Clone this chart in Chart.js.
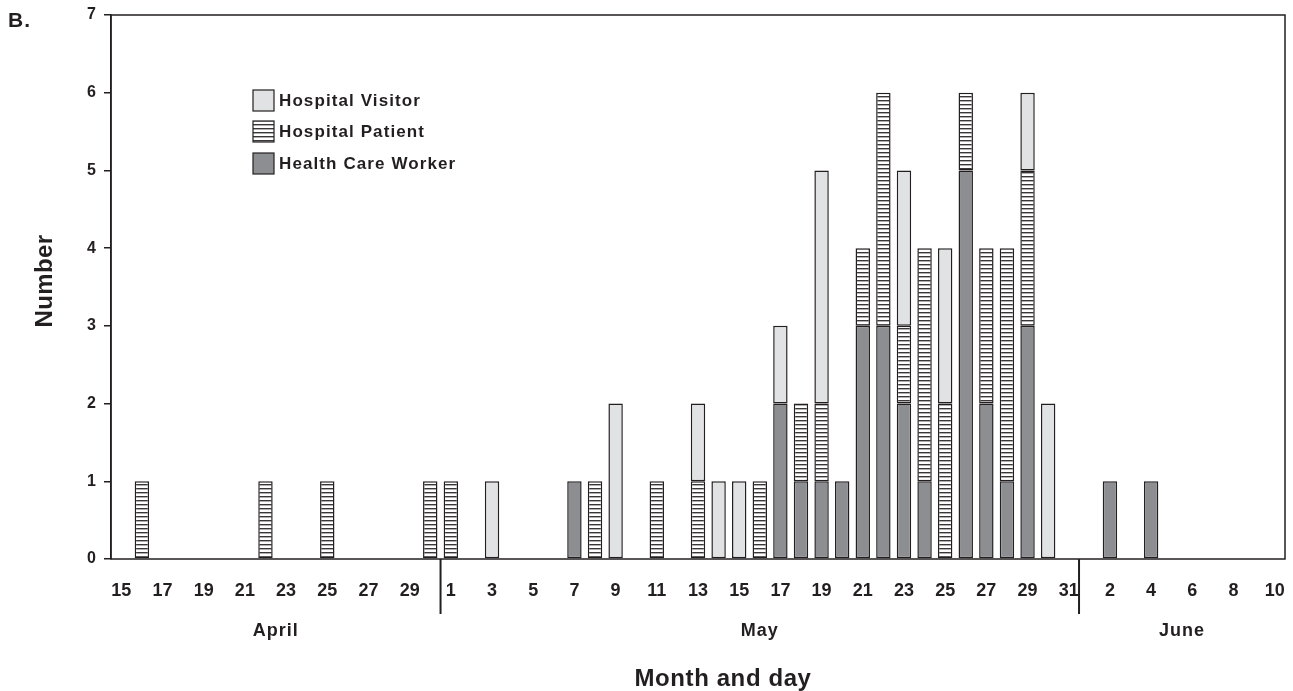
<!DOCTYPE html>
<html>
<head>
<meta charset="utf-8">
<script src="https://cdn.jsdelivr.net/npm/chart.js@4.4.1/dist/chart.umd.min.js"></script>
<style>
    html, body { margin: 0; padding: 0; background: #fff; }
    #wrap { width: 1293px; height: 691px; }
</style>
</head>
<body>
<div id="wrap"><canvas id="epiChart" width="1293" height="691"></canvas></div>
<script>
// day labels: April 15-30, May 1-31, June 1-10
const dayLabels = [
    '15', '16', '17', '18', '19', '20', '21', '22', '23', '24', '25', '26', '27', '28', '29', '30',
    '1', '2', '3', '4', '5', '6', '7', '8', '9', '10', '11', '12', '13', '14', '15', '16',
    '17', '18', '19', '20', '21', '22', '23', '24', '25', '26', '27', '28', '29', '30', '31',
    '1', '2', '3', '4', '5', '6', '7', '8', '9', '10'
];

const months = ['April', 'May', 'June'];
const monthStart = [0, 16, 47];   // first index of each month in dayLabels
const monthEnd = [15, 46, 56];

// cases per day (same order as dayLabels)
const healthCareWorker = [
    0, 0, 0, 0, 0, 0, 0, 0, 0, 0, 0, 0, 0, 0, 0, 0,
    0, 0, 0, 0, 0, 0, 1, 0, 0, 0, 0, 0, 0, 0, 0, 0,
    2, 1, 1, 1, 3, 3, 2, 1, 0, 5, 2, 1, 3, 0, 0,
    0, 1, 0, 1, 0, 0, 0, 0, 0, 0
];
const hospitalPatient = [
    0, 1, 0, 0, 0, 0, 0, 1, 0, 0, 1, 0, 0, 0, 0, 1,
    1, 0, 0, 0, 0, 0, 0, 1, 0, 0, 1, 0, 1, 0, 0, 1,
    0, 1, 1, 0, 1, 3, 1, 3, 2, 1, 2, 3, 2, 0, 0,
    0, 0, 0, 0, 0, 0, 0, 0, 0, 0
];
const hospitalVisitor = [
    0, 0, 0, 0, 0, 0, 0, 0, 0, 0, 0, 0, 0, 0, 0, 0,
    0, 0, 1, 0, 0, 0, 0, 0, 2, 0, 0, 0, 1, 1, 1, 0,
    1, 0, 3, 0, 0, 0, 2, 0, 2, 0, 0, 0, 1, 2, 0,
    0, 0, 0, 0, 0, 0, 0, 0, 0, 0
];

const yTicks = [0, 1, 2, 3, 4, 5, 6, 7];

const ink = '#231f20';
const visitorFill = '#e1e2e4';
const workerFill = '#8d8e92';

// horizontal stripes for patients
function makeStripes() {
    const c = document.createElement('canvas');
    c.width = 4;
    c.height = 4;
    const g = c.getContext('2d');
    g.fillStyle = '#ffffff';
    g.fillRect(0, 0, 4, 4);
    g.fillStyle = '#3a3637';
    g.fillRect(0, 0, 4, 1.4);
    return g.createPattern(c, 'repeat');
}

const canvas = document.getElementById('epiChart');
const ctx = canvas.getContext('2d');
const stripes = makeStripes();

function boldFont(size) {
    return 'bold ' + size + 'px "Liberation Sans", Arial, sans-serif';
}

function spacedText(g, text, x, y, size, spacing, align) {
    g.save();
    g.font = boldFont(size);
    g.letterSpacing = spacing + 'px';
    g.fillStyle = ink;
    g.textAlign = align || 'center';
    g.textBaseline = 'middle';
    g.fillText(text, x, y);
    g.restore();
}

const extras = {
    id: 'extras',
    afterDraw(chart) {
        const g = chart.ctx;
        const area = chart.chartArea;
        const x = chart.scales.x;

        // frame
        g.save();
        g.strokeStyle = ink;
        g.lineWidth = 1.5;
        g.strokeRect(area.left, area.top, area.right - area.left, area.bottom - area.top);

        // month separators
        g.lineWidth = 2;
        [15, 46].forEach(function (i) {
            const sx = (x.getPixelForValue(i) + x.getPixelForValue(i + 1)) / 2;
            g.beginPath();
            g.moveTo(sx, area.bottom);
            g.lineTo(sx, area.bottom + 55);
            g.stroke();
        });
        g.restore();

        // month names
        months.forEach(function (m, k) {
            const mx = (x.getPixelForValue(monthStart[k]) + x.getPixelForValue(monthEnd[k])) / 2;
            spacedText(g, m, mx, 631, 18, 1);
        });

        // axis titles and panel letter
        spacedText(g, 'Month and day', 723, 679, 24, 0.6);
        g.save();
        g.translate(45, 281);
        g.rotate(-Math.PI / 2);
        spacedText(g, 'Number', 0, 0, 24, 0.4);
        g.restore();
        spacedText(g, 'B.', 8, 21, 21, 1, 'left');

        // legend inside the plot
        const items = [
            { label: 'Hospital Visitor', fill: visitorFill, y: 90 },
            { label: 'Hospital Patient', fill: stripes, y: 121 },
            { label: 'Health Care Worker', fill: workerFill, y: 153 }
        ];
        items.forEach(function (it) {
            g.save();
            g.fillStyle = it.fill;
            g.fillRect(253, it.y, 21, 21);
            g.strokeStyle = ink;
            g.lineWidth = 1.2;
            g.strokeRect(253, it.y, 21, 21);
            g.restore();
            spacedText(g, it.label, 279, it.y + 11, 17, 1.1, 'left');
        });
    }
};

function barBorder(c) {
    return c.raw ? 1.5 : 0;
}

new Chart(ctx, {
    type: 'bar',
    data: {
        labels: dayLabels,
        datasets: [
            {
                label: 'Health Care Worker',
                data: healthCareWorker,
                backgroundColor: workerFill,
                borderColor: ink,
                borderWidth: barBorder,
                borderSkipped: false
            },
            {
                label: 'Hospital Patient',
                data: hospitalPatient,
                backgroundColor: stripes,
                borderColor: ink,
                borderWidth: barBorder,
                borderSkipped: false
            },
            {
                label: 'Hospital Visitor',
                data: hospitalVisitor,
                backgroundColor: visitorFill,
                borderColor: ink,
                borderWidth: barBorder,
                borderSkipped: false
            }
        ]
    },
    options: {
        responsive: false,
        animation: false,
        events: [],
        barPercentage: 0.7,
        categoryPercentage: 1.0,
        layout: {
            padding: { top: 15, right: 8, left: 0, bottom: 0 }
        },
        plugins: {
            legend: { display: false },
            tooltip: { enabled: false }
        },
        scales: {
            x: {
                stacked: true,
                grid: { display: false, drawTicks: false },
                border: { display: false },
                ticks: {
                    autoSkip: false,
                    maxRotation: 0,
                    padding: 21,
                    color: ink,
                    font: { family: '"Liberation Sans", Arial, sans-serif', size: 18, weight: 'bold' },
                    callback: function (value, index) {
                        return index % 2 === 0 ? dayLabels[index] : '';
                    }
                },
                afterFit: function (scale) {
                    scale.height = 132;
                    scale.paddingLeft = 0;
                    scale.paddingRight = 0;
                }
            },
            y: {
                stacked: true,
                min: yTicks[0],
                max: yTicks[yTicks.length - 1],
                grid: {
                    drawOnChartArea: false,
                    drawTicks: true,
                    tickLength: 7,
                    color: ink,
                    lineWidth: 1.5
                },
                border: { color: ink, width: 1.5 },
                ticks: {
                    stepSize: 1,
                    padding: 8,
                    color: ink,
                    font: { family: '"Liberation Sans", Arial, sans-serif', size: 16, weight: 'bold' }
                },
                afterFit: function (scale) {
                    scale.width = 111;
                    scale.paddingTop = 0;
                    scale.paddingBottom = 0;
                }
            }
        }
    },
    plugins: [extras]
});
</script>
</body>
</html>
